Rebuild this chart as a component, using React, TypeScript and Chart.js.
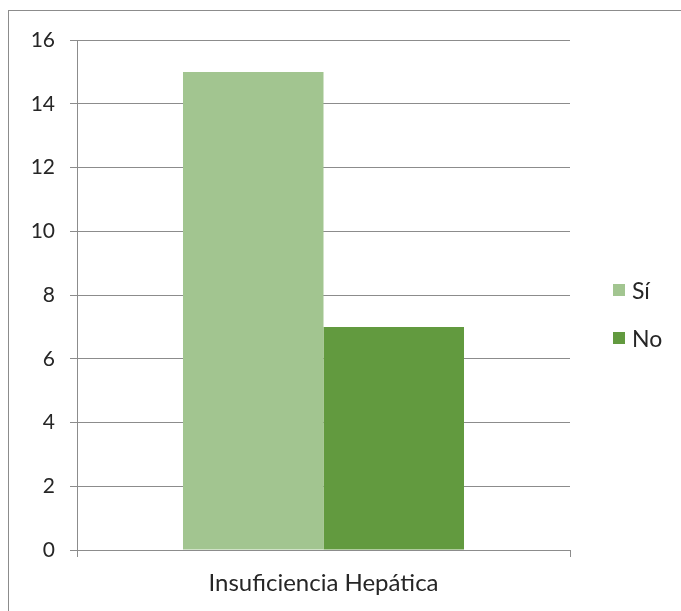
import React, { useEffect, useRef } from "react";
import { Chart, registerables } from "chart.js";

Chart.register(...registerables);

const categories = ["Insuficiencia Hepática"];
const seriesNames = ["Sí", "No"];
const siValues = [15];
const noValues = [7];
const seriesColors = ["#A2C590", "#629A3F"];
const yMin = 0;
const yMax = 16;
const yStep = 2;

const FONT = "Lato, 'Open Sans', sans-serif";
const GRID = "#8c8c8c";
const TEXT = "#262626";

export default function App() {
  const ref = useRef<HTMLCanvasElement>(null);
  useEffect(() => {
    const chart = new Chart(ref.current as HTMLCanvasElement, {
      type: "bar",
      data: {
        labels: categories,
        datasets: [
          { label: seriesNames[0], data: siValues, backgroundColor: seriesColors[0], borderWidth: 0 },
          { label: seriesNames[1], data: noValues, backgroundColor: seriesColors[1], borderWidth: 0 },
        ],
      },
      options: {
        animation: false,
        responsive: false,
        layout: { padding: { top: 29, right: 111, bottom: 0, left: 0 } },
        plugins: { legend: { display: false }, tooltip: { enabled: false } },
        datasets: { bar: { categoryPercentage: 0.57, barPercentage: 1 } },
        scales: {
          x: {
            grid: { display: true, drawOnChartArea: false, drawTicks: true, tickLength: 7, color: GRID },
            border: { color: GRID },
            ticks: { font: { family: FONT, size: 24 }, color: TEXT, padding: 12 },
            afterFit: (s: any) => { s.height = 61; },
          },
          y: {
            min: yMin,
            max: yMax,
            ticks: { stepSize: yStep, font: { family: FONT, size: 21 }, color: TEXT, padding: 15 },
            grid: { color: GRID, tickLength: 7 },
            border: { color: GRID },
            afterFit: (s: any) => { s.width = 68; },
          },
        },
      },
    });
    return () => chart.destroy();
  }, []);

  return (
    <div
      style={{
        position: "fixed",
        left: 8,
        top: 10,
        width: 673,
        height: 601,
        borderLeft: `1px solid ${GRID}`,
        borderTop: `1px solid ${GRID}`,
        overflow: "hidden",
        fontFamily: FONT,
        background: "#fff",
      }}
    >
      <canvas ref={ref} width={672} height={600} style={{ display: "block", width: 672, height: 600 }} />
      {seriesNames.map((name, i) => (
        <div
          key={name}
          style={{
            position: "absolute",
            left: 604,
            top: 266 + i * 48,
            height: 26,
            display: "flex",
            alignItems: "center",
            fontSize: 23,
            color: TEXT,
            whiteSpace: "nowrap",
          }}
        >
          <span style={{ display: "inline-block", width: 12, height: 12, background: seriesColors[i], marginRight: 7 }} />
          {name}
        </div>
      ))}
    </div>
  );
}
